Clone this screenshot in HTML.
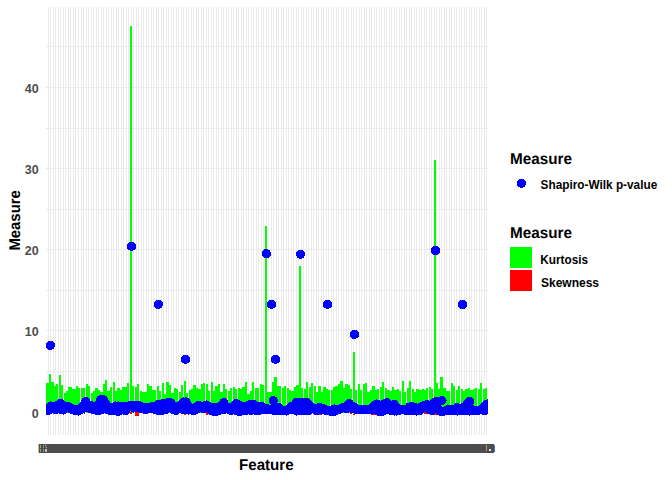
<!DOCTYPE html>
<html><head><meta charset="utf-8"><style>
html,body{margin:0;padding:0;background:#fff;width:672px;height:480px;overflow:hidden}
svg{position:absolute;left:0;top:0}
text{font-family:"Liberation Sans",sans-serif;font-weight:bold}
</style></head><body>
<svg width="672" height="480" viewBox="0 0 672 480">
<defs><clipPath id="pc"><rect x="46" y="7" width="442" height="428"/></clipPath></defs>
<g shape-rendering="crispEdges">
<rect x="48" y="7" width="1" height="428" fill="#EBEBEB"/>
<rect x="50" y="7" width="1" height="428" fill="#EBEBEB"/>
<rect x="53" y="7" width="1" height="428" fill="#EBEBEB"/>
<rect x="55" y="7" width="1" height="428" fill="#EBEBEB"/>
<rect x="58" y="7" width="1" height="428" fill="#EBEBEB"/>
<rect x="60" y="7" width="1" height="428" fill="#EBEBEB"/>
<rect x="63" y="7" width="1" height="428" fill="#EBEBEB"/>
<rect x="65" y="7" width="1" height="428" fill="#EBEBEB"/>
<rect x="68" y="7" width="1" height="428" fill="#EBEBEB"/>
<rect x="70" y="7" width="1" height="428" fill="#EBEBEB"/>
<rect x="73" y="7" width="1" height="428" fill="#EBEBEB"/>
<rect x="75" y="7" width="1" height="428" fill="#EBEBEB"/>
<rect x="78" y="7" width="1" height="428" fill="#EBEBEB"/>
<rect x="81" y="7" width="1" height="428" fill="#EBEBEB"/>
<rect x="83" y="7" width="1" height="428" fill="#EBEBEB"/>
<rect x="86" y="7" width="1" height="428" fill="#EBEBEB"/>
<rect x="88" y="7" width="1" height="428" fill="#EBEBEB"/>
<rect x="91" y="7" width="1" height="428" fill="#EBEBEB"/>
<rect x="93" y="7" width="1" height="428" fill="#EBEBEB"/>
<rect x="96" y="7" width="1" height="428" fill="#EBEBEB"/>
<rect x="98" y="7" width="1" height="428" fill="#EBEBEB"/>
<rect x="101" y="7" width="1" height="428" fill="#EBEBEB"/>
<rect x="103" y="7" width="1" height="428" fill="#EBEBEB"/>
<rect x="106" y="7" width="1" height="428" fill="#EBEBEB"/>
<rect x="108" y="7" width="1" height="428" fill="#EBEBEB"/>
<rect x="111" y="7" width="1" height="428" fill="#EBEBEB"/>
<rect x="113" y="7" width="1" height="428" fill="#EBEBEB"/>
<rect x="116" y="7" width="1" height="428" fill="#EBEBEB"/>
<rect x="118" y="7" width="1" height="428" fill="#EBEBEB"/>
<rect x="121" y="7" width="1" height="428" fill="#EBEBEB"/>
<rect x="123" y="7" width="1" height="428" fill="#EBEBEB"/>
<rect x="126" y="7" width="1" height="428" fill="#EBEBEB"/>
<rect x="128" y="7" width="1" height="428" fill="#EBEBEB"/>
<rect x="131" y="7" width="1" height="428" fill="#EBEBEB"/>
<rect x="133" y="7" width="1" height="428" fill="#EBEBEB"/>
<rect x="136" y="7" width="1" height="428" fill="#EBEBEB"/>
<rect x="138" y="7" width="1" height="428" fill="#EBEBEB"/>
<rect x="141" y="7" width="1" height="428" fill="#EBEBEB"/>
<rect x="143" y="7" width="1" height="428" fill="#EBEBEB"/>
<rect x="146" y="7" width="1" height="428" fill="#EBEBEB"/>
<rect x="148" y="7" width="1" height="428" fill="#EBEBEB"/>
<rect x="151" y="7" width="1" height="428" fill="#EBEBEB"/>
<rect x="153" y="7" width="1" height="428" fill="#EBEBEB"/>
<rect x="156" y="7" width="1" height="428" fill="#EBEBEB"/>
<rect x="158" y="7" width="1" height="428" fill="#EBEBEB"/>
<rect x="161" y="7" width="1" height="428" fill="#EBEBEB"/>
<rect x="163" y="7" width="1" height="428" fill="#EBEBEB"/>
<rect x="166" y="7" width="1" height="428" fill="#EBEBEB"/>
<rect x="168" y="7" width="1" height="428" fill="#EBEBEB"/>
<rect x="171" y="7" width="1" height="428" fill="#EBEBEB"/>
<rect x="173" y="7" width="1" height="428" fill="#EBEBEB"/>
<rect x="176" y="7" width="1" height="428" fill="#EBEBEB"/>
<rect x="178" y="7" width="1" height="428" fill="#EBEBEB"/>
<rect x="181" y="7" width="1" height="428" fill="#EBEBEB"/>
<rect x="183" y="7" width="1" height="428" fill="#EBEBEB"/>
<rect x="186" y="7" width="1" height="428" fill="#EBEBEB"/>
<rect x="188" y="7" width="1" height="428" fill="#EBEBEB"/>
<rect x="191" y="7" width="1" height="428" fill="#EBEBEB"/>
<rect x="193" y="7" width="1" height="428" fill="#EBEBEB"/>
<rect x="196" y="7" width="1" height="428" fill="#EBEBEB"/>
<rect x="198" y="7" width="1" height="428" fill="#EBEBEB"/>
<rect x="201" y="7" width="1" height="428" fill="#EBEBEB"/>
<rect x="203" y="7" width="1" height="428" fill="#EBEBEB"/>
<rect x="206" y="7" width="1" height="428" fill="#EBEBEB"/>
<rect x="208" y="7" width="1" height="428" fill="#EBEBEB"/>
<rect x="211" y="7" width="1" height="428" fill="#EBEBEB"/>
<rect x="213" y="7" width="1" height="428" fill="#EBEBEB"/>
<rect x="216" y="7" width="1" height="428" fill="#EBEBEB"/>
<rect x="218" y="7" width="1" height="428" fill="#EBEBEB"/>
<rect x="221" y="7" width="1" height="428" fill="#EBEBEB"/>
<rect x="223" y="7" width="1" height="428" fill="#EBEBEB"/>
<rect x="226" y="7" width="1" height="428" fill="#EBEBEB"/>
<rect x="228" y="7" width="1" height="428" fill="#EBEBEB"/>
<rect x="231" y="7" width="1" height="428" fill="#EBEBEB"/>
<rect x="233" y="7" width="1" height="428" fill="#EBEBEB"/>
<rect x="236" y="7" width="1" height="428" fill="#EBEBEB"/>
<rect x="238" y="7" width="1" height="428" fill="#EBEBEB"/>
<rect x="241" y="7" width="1" height="428" fill="#EBEBEB"/>
<rect x="243" y="7" width="1" height="428" fill="#EBEBEB"/>
<rect x="246" y="7" width="1" height="428" fill="#EBEBEB"/>
<rect x="248" y="7" width="1" height="428" fill="#EBEBEB"/>
<rect x="251" y="7" width="1" height="428" fill="#EBEBEB"/>
<rect x="253" y="7" width="1" height="428" fill="#EBEBEB"/>
<rect x="256" y="7" width="1" height="428" fill="#EBEBEB"/>
<rect x="258" y="7" width="1" height="428" fill="#EBEBEB"/>
<rect x="261" y="7" width="1" height="428" fill="#EBEBEB"/>
<rect x="263" y="7" width="1" height="428" fill="#EBEBEB"/>
<rect x="266" y="7" width="1" height="428" fill="#EBEBEB"/>
<rect x="268" y="7" width="1" height="428" fill="#EBEBEB"/>
<rect x="271" y="7" width="1" height="428" fill="#EBEBEB"/>
<rect x="273" y="7" width="1" height="428" fill="#EBEBEB"/>
<rect x="276" y="7" width="1" height="428" fill="#EBEBEB"/>
<rect x="278" y="7" width="1" height="428" fill="#EBEBEB"/>
<rect x="281" y="7" width="1" height="428" fill="#EBEBEB"/>
<rect x="283" y="7" width="1" height="428" fill="#EBEBEB"/>
<rect x="286" y="7" width="1" height="428" fill="#EBEBEB"/>
<rect x="288" y="7" width="1" height="428" fill="#EBEBEB"/>
<rect x="291" y="7" width="1" height="428" fill="#EBEBEB"/>
<rect x="293" y="7" width="1" height="428" fill="#EBEBEB"/>
<rect x="296" y="7" width="1" height="428" fill="#EBEBEB"/>
<rect x="298" y="7" width="1" height="428" fill="#EBEBEB"/>
<rect x="301" y="7" width="1" height="428" fill="#EBEBEB"/>
<rect x="303" y="7" width="1" height="428" fill="#EBEBEB"/>
<rect x="306" y="7" width="1" height="428" fill="#EBEBEB"/>
<rect x="308" y="7" width="1" height="428" fill="#EBEBEB"/>
<rect x="311" y="7" width="1" height="428" fill="#EBEBEB"/>
<rect x="313" y="7" width="1" height="428" fill="#EBEBEB"/>
<rect x="316" y="7" width="1" height="428" fill="#EBEBEB"/>
<rect x="318" y="7" width="1" height="428" fill="#EBEBEB"/>
<rect x="321" y="7" width="1" height="428" fill="#EBEBEB"/>
<rect x="323" y="7" width="1" height="428" fill="#EBEBEB"/>
<rect x="326" y="7" width="1" height="428" fill="#EBEBEB"/>
<rect x="328" y="7" width="1" height="428" fill="#EBEBEB"/>
<rect x="331" y="7" width="1" height="428" fill="#EBEBEB"/>
<rect x="333" y="7" width="1" height="428" fill="#EBEBEB"/>
<rect x="336" y="7" width="1" height="428" fill="#EBEBEB"/>
<rect x="338" y="7" width="1" height="428" fill="#EBEBEB"/>
<rect x="341" y="7" width="1" height="428" fill="#EBEBEB"/>
<rect x="343" y="7" width="1" height="428" fill="#EBEBEB"/>
<rect x="346" y="7" width="1" height="428" fill="#EBEBEB"/>
<rect x="348" y="7" width="1" height="428" fill="#EBEBEB"/>
<rect x="351" y="7" width="1" height="428" fill="#EBEBEB"/>
<rect x="353" y="7" width="1" height="428" fill="#EBEBEB"/>
<rect x="356" y="7" width="1" height="428" fill="#EBEBEB"/>
<rect x="359" y="7" width="1" height="428" fill="#EBEBEB"/>
<rect x="361" y="7" width="1" height="428" fill="#EBEBEB"/>
<rect x="364" y="7" width="1" height="428" fill="#EBEBEB"/>
<rect x="366" y="7" width="1" height="428" fill="#EBEBEB"/>
<rect x="369" y="7" width="1" height="428" fill="#EBEBEB"/>
<rect x="371" y="7" width="1" height="428" fill="#EBEBEB"/>
<rect x="374" y="7" width="1" height="428" fill="#EBEBEB"/>
<rect x="376" y="7" width="1" height="428" fill="#EBEBEB"/>
<rect x="379" y="7" width="1" height="428" fill="#EBEBEB"/>
<rect x="381" y="7" width="1" height="428" fill="#EBEBEB"/>
<rect x="384" y="7" width="1" height="428" fill="#EBEBEB"/>
<rect x="386" y="7" width="1" height="428" fill="#EBEBEB"/>
<rect x="389" y="7" width="1" height="428" fill="#EBEBEB"/>
<rect x="391" y="7" width="1" height="428" fill="#EBEBEB"/>
<rect x="394" y="7" width="1" height="428" fill="#EBEBEB"/>
<rect x="396" y="7" width="1" height="428" fill="#EBEBEB"/>
<rect x="399" y="7" width="1" height="428" fill="#EBEBEB"/>
<rect x="401" y="7" width="1" height="428" fill="#EBEBEB"/>
<rect x="404" y="7" width="1" height="428" fill="#EBEBEB"/>
<rect x="406" y="7" width="1" height="428" fill="#EBEBEB"/>
<rect x="409" y="7" width="1" height="428" fill="#EBEBEB"/>
<rect x="411" y="7" width="1" height="428" fill="#EBEBEB"/>
<rect x="414" y="7" width="1" height="428" fill="#EBEBEB"/>
<rect x="416" y="7" width="1" height="428" fill="#EBEBEB"/>
<rect x="419" y="7" width="1" height="428" fill="#EBEBEB"/>
<rect x="421" y="7" width="1" height="428" fill="#EBEBEB"/>
<rect x="424" y="7" width="1" height="428" fill="#EBEBEB"/>
<rect x="426" y="7" width="1" height="428" fill="#EBEBEB"/>
<rect x="429" y="7" width="1" height="428" fill="#EBEBEB"/>
<rect x="431" y="7" width="1" height="428" fill="#EBEBEB"/>
<rect x="434" y="7" width="1" height="428" fill="#EBEBEB"/>
<rect x="436" y="7" width="1" height="428" fill="#EBEBEB"/>
<rect x="439" y="7" width="1" height="428" fill="#EBEBEB"/>
<rect x="441" y="7" width="1" height="428" fill="#EBEBEB"/>
<rect x="444" y="7" width="1" height="428" fill="#EBEBEB"/>
<rect x="446" y="7" width="1" height="428" fill="#EBEBEB"/>
<rect x="449" y="7" width="1" height="428" fill="#EBEBEB"/>
<rect x="451" y="7" width="1" height="428" fill="#EBEBEB"/>
<rect x="454" y="7" width="1" height="428" fill="#EBEBEB"/>
<rect x="456" y="7" width="1" height="428" fill="#EBEBEB"/>
<rect x="459" y="7" width="1" height="428" fill="#EBEBEB"/>
<rect x="461" y="7" width="1" height="428" fill="#EBEBEB"/>
<rect x="464" y="7" width="1" height="428" fill="#EBEBEB"/>
<rect x="466" y="7" width="1" height="428" fill="#EBEBEB"/>
<rect x="469" y="7" width="1" height="428" fill="#EBEBEB"/>
<rect x="471" y="7" width="1" height="428" fill="#EBEBEB"/>
<rect x="474" y="7" width="1" height="428" fill="#EBEBEB"/>
<rect x="476" y="7" width="1" height="428" fill="#EBEBEB"/>
<rect x="479" y="7" width="1" height="428" fill="#EBEBEB"/>
<rect x="481" y="7" width="1" height="428" fill="#EBEBEB"/>
<rect x="484" y="7" width="1" height="428" fill="#EBEBEB"/>
<rect x="486" y="7" width="1" height="428" fill="#EBEBEB"/>
<rect x="46" y="46" width="442" height="1" fill="#EBEBEB"/>
<rect x="46" y="128" width="442" height="1" fill="#EBEBEB"/>
<rect x="46" y="209" width="442" height="1" fill="#EBEBEB"/>
<rect x="46" y="290" width="442" height="1" fill="#EBEBEB"/>
<rect x="46" y="371" width="442" height="1" fill="#EBEBEB"/>
<rect x="46" y="87" width="442" height="1" fill="#EBEBEB"/>
<rect x="46" y="168" width="442" height="1" fill="#EBEBEB"/>
<rect x="46" y="249" width="442" height="1" fill="#EBEBEB"/>
<rect x="46" y="330" width="442" height="1" fill="#EBEBEB"/>
<rect x="46" y="411" width="442" height="1" fill="#EBEBEB"/>
<rect x="46" y="383" width="3" height="30" fill="#00FF00"/>
<rect x="49" y="374" width="2" height="39" fill="#00FF00"/>
<rect x="51" y="382" width="3" height="31" fill="#00FF00"/>
<rect x="54" y="386" width="2" height="27" fill="#00FF00"/>
<rect x="56" y="384" width="2" height="29" fill="#00FF00"/>
<rect x="59" y="375" width="2" height="38" fill="#00FF00"/>
<rect x="61" y="385" width="2" height="28" fill="#00FF00"/>
<rect x="64" y="393" width="2" height="20" fill="#00FF00"/>
<rect x="66" y="391" width="2" height="22" fill="#00FF00"/>
<rect x="68" y="387" width="4" height="26" fill="#00FF00"/>
<rect x="72" y="389" width="4" height="24" fill="#00FF00"/>
<rect x="76" y="386" width="2" height="27" fill="#00FF00"/>
<rect x="78" y="388" width="2" height="25" fill="#00FF00"/>
<rect x="81" y="388" width="4" height="25" fill="#00FF00"/>
<rect x="86" y="384" width="2" height="29" fill="#00FF00"/>
<rect x="88" y="386" width="2" height="27" fill="#00FF00"/>
<rect x="91" y="393" width="2" height="20" fill="#00FF00"/>
<rect x="93" y="391" width="2" height="22" fill="#00FF00"/>
<rect x="95" y="388" width="3" height="25" fill="#00FF00"/>
<rect x="98" y="390" width="2" height="23" fill="#00FF00"/>
<rect x="100" y="392" width="3" height="21" fill="#00FF00"/>
<rect x="103" y="384" width="1" height="29" fill="#00FF00"/>
<rect x="104" y="384" width="1" height="29" fill="#00FF00"/>
<rect x="105" y="380" width="2" height="33" fill="#00FF00"/>
<rect x="107" y="391" width="3" height="22" fill="#00FF00"/>
<rect x="110" y="387" width="2" height="26" fill="#00FF00"/>
<rect x="113" y="382" width="2" height="31" fill="#00FF00"/>
<rect x="115" y="391" width="2" height="22" fill="#00FF00"/>
<rect x="117" y="388" width="3" height="25" fill="#00FF00"/>
<rect x="120" y="390" width="2" height="23" fill="#00FF00"/>
<rect x="122" y="387" width="5" height="26" fill="#00FF00"/>
<rect x="127" y="383" width="2" height="30" fill="#00FF00"/>
<rect x="130" y="26" width="2" height="387" fill="#00FF00"/>
<rect x="132" y="386" width="2" height="27" fill="#00FF00"/>
<rect x="135" y="387" width="2" height="26" fill="#00FF00"/>
<rect x="137" y="384" width="2" height="29" fill="#00FF00"/>
<rect x="140" y="391" width="2" height="22" fill="#00FF00"/>
<rect x="142" y="392" width="5" height="21" fill="#00FF00"/>
<rect x="147" y="384" width="2" height="29" fill="#00FF00"/>
<rect x="149" y="386" width="3" height="27" fill="#00FF00"/>
<rect x="152" y="390" width="4" height="23" fill="#00FF00"/>
<rect x="157" y="386" width="2" height="27" fill="#00FF00"/>
<rect x="159" y="391" width="2" height="22" fill="#00FF00"/>
<rect x="162" y="383" width="2" height="30" fill="#00FF00"/>
<rect x="164" y="394" width="2" height="19" fill="#00FF00"/>
<rect x="166" y="382" width="3" height="31" fill="#00FF00"/>
<rect x="169" y="385" width="2" height="28" fill="#00FF00"/>
<rect x="171" y="393" width="3" height="20" fill="#00FF00"/>
<rect x="174" y="388" width="2" height="25" fill="#00FF00"/>
<rect x="176" y="389" width="2" height="24" fill="#00FF00"/>
<rect x="179" y="392" width="2" height="21" fill="#00FF00"/>
<rect x="181" y="385" width="2" height="28" fill="#00FF00"/>
<rect x="184" y="381" width="2" height="32" fill="#00FF00"/>
<rect x="186" y="393" width="2" height="20" fill="#00FF00"/>
<rect x="189" y="390" width="2" height="23" fill="#00FF00"/>
<rect x="191" y="389" width="2" height="24" fill="#00FF00"/>
<rect x="193" y="385" width="3" height="28" fill="#00FF00"/>
<rect x="196" y="388" width="2" height="25" fill="#00FF00"/>
<rect x="198" y="389" width="3" height="24" fill="#00FF00"/>
<rect x="201" y="384" width="2" height="29" fill="#00FF00"/>
<rect x="203" y="383" width="2" height="30" fill="#00FF00"/>
<rect x="206" y="384" width="2" height="29" fill="#00FF00"/>
<rect x="208" y="391" width="2" height="22" fill="#00FF00"/>
<rect x="211" y="382" width="2" height="31" fill="#00FF00"/>
<rect x="213" y="391" width="2" height="22" fill="#00FF00"/>
<rect x="215" y="386" width="3" height="27" fill="#00FF00"/>
<rect x="218" y="384" width="2" height="29" fill="#00FF00"/>
<rect x="220" y="392" width="3" height="21" fill="#00FF00"/>
<rect x="223" y="384" width="1" height="29" fill="#00FF00"/>
<rect x="224" y="384" width="1" height="29" fill="#00FF00"/>
<rect x="225" y="389" width="2" height="24" fill="#00FF00"/>
<rect x="228" y="391" width="2" height="22" fill="#00FF00"/>
<rect x="230" y="388" width="2" height="25" fill="#00FF00"/>
<rect x="233" y="387" width="2" height="26" fill="#00FF00"/>
<rect x="235" y="389" width="2" height="24" fill="#00FF00"/>
<rect x="238" y="388" width="2" height="25" fill="#00FF00"/>
<rect x="240" y="389" width="2" height="24" fill="#00FF00"/>
<rect x="242" y="387" width="3" height="26" fill="#00FF00"/>
<rect x="245" y="382" width="2" height="31" fill="#00FF00"/>
<rect x="247" y="394" width="3" height="19" fill="#00FF00"/>
<rect x="250" y="391" width="2" height="22" fill="#00FF00"/>
<rect x="252" y="382" width="2" height="31" fill="#00FF00"/>
<rect x="255" y="388" width="4" height="25" fill="#00FF00"/>
<rect x="260" y="384" width="2" height="29" fill="#00FF00"/>
<rect x="262" y="385" width="2" height="28" fill="#00FF00"/>
<rect x="265" y="226" width="2" height="187" fill="#00FF00"/>
<rect x="267" y="392" width="5" height="21" fill="#00FF00"/>
<rect x="272" y="382" width="2" height="31" fill="#00FF00"/>
<rect x="274" y="377" width="3" height="36" fill="#00FF00"/>
<rect x="277" y="386" width="4" height="27" fill="#00FF00"/>
<rect x="282" y="388" width="2" height="25" fill="#00FF00"/>
<rect x="284" y="386" width="2" height="27" fill="#00FF00"/>
<rect x="287" y="388" width="2" height="25" fill="#00FF00"/>
<rect x="289" y="390" width="2" height="23" fill="#00FF00"/>
<rect x="291" y="391" width="3" height="22" fill="#00FF00"/>
<rect x="294" y="387" width="2" height="26" fill="#00FF00"/>
<rect x="296" y="385" width="3" height="28" fill="#00FF00"/>
<rect x="299" y="266" width="2" height="147" fill="#00FF00"/>
<rect x="301" y="388" width="2" height="25" fill="#00FF00"/>
<rect x="304" y="389" width="2" height="24" fill="#00FF00"/>
<rect x="306" y="382" width="2" height="31" fill="#00FF00"/>
<rect x="309" y="387" width="2" height="26" fill="#00FF00"/>
<rect x="311" y="383" width="2" height="30" fill="#00FF00"/>
<rect x="314" y="386" width="2" height="27" fill="#00FF00"/>
<rect x="316" y="392" width="2" height="21" fill="#00FF00"/>
<rect x="318" y="386" width="3" height="27" fill="#00FF00"/>
<rect x="321" y="392" width="2" height="21" fill="#00FF00"/>
<rect x="323" y="387" width="3" height="26" fill="#00FF00"/>
<rect x="326" y="389" width="2" height="24" fill="#00FF00"/>
<rect x="328" y="390" width="2" height="23" fill="#00FF00"/>
<rect x="331" y="390" width="2" height="23" fill="#00FF00"/>
<rect x="333" y="387" width="2" height="26" fill="#00FF00"/>
<rect x="335" y="386" width="3" height="27" fill="#00FF00"/>
<rect x="338" y="384" width="2" height="29" fill="#00FF00"/>
<rect x="340" y="381" width="3" height="32" fill="#00FF00"/>
<rect x="343" y="388" width="1" height="25" fill="#00FF00"/>
<rect x="344" y="388" width="1" height="25" fill="#00FF00"/>
<rect x="345" y="384" width="3" height="29" fill="#00FF00"/>
<rect x="348" y="385" width="2" height="28" fill="#00FF00"/>
<rect x="350" y="389" width="2" height="24" fill="#00FF00"/>
<rect x="353" y="352" width="2" height="61" fill="#00FF00"/>
<rect x="355" y="390" width="2" height="23" fill="#00FF00"/>
<rect x="358" y="384" width="2" height="29" fill="#00FF00"/>
<rect x="360" y="390" width="2" height="23" fill="#00FF00"/>
<rect x="363" y="384" width="2" height="29" fill="#00FF00"/>
<rect x="365" y="383" width="2" height="30" fill="#00FF00"/>
<rect x="367" y="392" width="3" height="21" fill="#00FF00"/>
<rect x="370" y="390" width="2" height="23" fill="#00FF00"/>
<rect x="372" y="386" width="3" height="27" fill="#00FF00"/>
<rect x="375" y="390" width="2" height="23" fill="#00FF00"/>
<rect x="377" y="389" width="2" height="24" fill="#00FF00"/>
<rect x="380" y="387" width="2" height="26" fill="#00FF00"/>
<rect x="382" y="382" width="2" height="31" fill="#00FF00"/>
<rect x="385" y="388" width="2" height="25" fill="#00FF00"/>
<rect x="387" y="390" width="3" height="23" fill="#00FF00"/>
<rect x="390" y="391" width="2" height="22" fill="#00FF00"/>
<rect x="392" y="387" width="2" height="26" fill="#00FF00"/>
<rect x="394" y="390" width="3" height="23" fill="#00FF00"/>
<rect x="397" y="389" width="2" height="24" fill="#00FF00"/>
<rect x="399" y="391" width="2" height="22" fill="#00FF00"/>
<rect x="402" y="381" width="2" height="32" fill="#00FF00"/>
<rect x="404" y="392" width="2" height="21" fill="#00FF00"/>
<rect x="407" y="388" width="2" height="25" fill="#00FF00"/>
<rect x="409" y="381" width="2" height="32" fill="#00FF00"/>
<rect x="412" y="389" width="2" height="24" fill="#00FF00"/>
<rect x="414" y="392" width="2" height="21" fill="#00FF00"/>
<rect x="416" y="389" width="3" height="24" fill="#00FF00"/>
<rect x="419" y="390" width="3" height="23" fill="#00FF00"/>
<rect x="422" y="389" width="2" height="24" fill="#00FF00"/>
<rect x="424" y="390" width="2" height="23" fill="#00FF00"/>
<rect x="426" y="388" width="2" height="25" fill="#00FF00"/>
<rect x="429" y="387" width="2" height="26" fill="#00FF00"/>
<rect x="431" y="389" width="2" height="24" fill="#00FF00"/>
<rect x="434" y="160" width="2" height="253" fill="#00FF00"/>
<rect x="436" y="383" width="2" height="30" fill="#00FF00"/>
<rect x="438" y="389" width="2" height="24" fill="#00FF00"/>
<rect x="440" y="377" width="3" height="36" fill="#00FF00"/>
<rect x="443" y="388" width="3" height="25" fill="#00FF00"/>
<rect x="446" y="391" width="4" height="22" fill="#00FF00"/>
<rect x="451" y="383" width="2" height="30" fill="#00FF00"/>
<rect x="453" y="386" width="2" height="27" fill="#00FF00"/>
<rect x="456" y="390" width="2" height="23" fill="#00FF00"/>
<rect x="458" y="386" width="2" height="27" fill="#00FF00"/>
<rect x="461" y="389" width="2" height="24" fill="#00FF00"/>
<rect x="463" y="391" width="2" height="22" fill="#00FF00"/>
<rect x="465" y="389" width="3" height="24" fill="#00FF00"/>
<rect x="468" y="388" width="2" height="25" fill="#00FF00"/>
<rect x="470" y="390" width="3" height="23" fill="#00FF00"/>
<rect x="473" y="389" width="2" height="24" fill="#00FF00"/>
<rect x="475" y="388" width="2" height="25" fill="#00FF00"/>
<rect x="478" y="389" width="2" height="24" fill="#00FF00"/>
<rect x="480" y="383" width="2" height="30" fill="#00FF00"/>
<rect x="483" y="389" width="2" height="24" fill="#00FF00"/>
<rect x="485" y="388" width="2" height="25" fill="#00FF00"/>
<rect x="108" y="400" width="3" height="6" fill="#00FF00"/>
<rect x="434" y="408" width="2" height="4" fill="#00FF00"/>
<rect x="441" y="401" width="6" height="6" fill="#00FF00"/>
<rect x="298" y="406" width="3" height="2" fill="#00FF00"/>
<rect x="303" y="406" width="3" height="2" fill="#00FF00"/>
<rect x="84" y="413" width="1" height="1" fill="#FF0000"/>
<rect x="130" y="412" width="2" height="2" fill="#FF0000"/>
<rect x="135" y="412" width="4" height="4" fill="#FF0000"/>
<rect x="184" y="414" width="2" height="1" fill="#FF0000"/>
<rect x="206" y="412" width="2" height="3" fill="#FF0000"/>
<rect x="319" y="414" width="2" height="1" fill="#FF0000"/>
<rect x="350" y="413" width="2" height="1" fill="#FF0000"/>
<rect x="353" y="414" width="2" height="1" fill="#FF0000"/>
<rect x="372" y="414" width="5" height="1" fill="#FF0000"/>
<rect x="416" y="412" width="1" height="2" fill="#FF0000"/>
<rect x="424" y="412" width="3" height="2" fill="#FF0000"/>
<rect x="434" y="412" width="3" height="3" fill="#FF0000"/>
</g>
<g clip-path="url(#pc)">
<g fill="#0000FF" shape-rendering="crispEdges"><circle cx="48.10" cy="408.00" r="4.6"/>
<circle cx="48.10" cy="410.50" r="4.6"/>
<circle cx="50.61" cy="406.00" r="4.6"/>
<circle cx="50.61" cy="406.00" r="4.6"/>
<circle cx="53.12" cy="406.50" r="4.6"/>
<circle cx="53.12" cy="409.00" r="4.6"/>
<circle cx="55.63" cy="406.00" r="4.6"/>
<circle cx="55.63" cy="409.50" r="4.6"/>
<circle cx="58.14" cy="405.00" r="4.6"/>
<circle cx="58.14" cy="405.00" r="4.6"/>
<circle cx="60.65" cy="403.50" r="4.6"/>
<circle cx="60.65" cy="409.50" r="4.6"/>
<circle cx="63.15" cy="405.50" r="4.6"/>
<circle cx="63.15" cy="410.00" r="4.6"/>
<circle cx="65.66" cy="406.50" r="4.6"/>
<circle cx="65.66" cy="406.50" r="4.6"/>
<circle cx="68.17" cy="406.50" r="4.6"/>
<circle cx="68.17" cy="408.00" r="4.6"/>
<circle cx="70.68" cy="408.00" r="4.6"/>
<circle cx="70.68" cy="408.00" r="4.6"/>
<circle cx="73.19" cy="409.00" r="4.6"/>
<circle cx="73.19" cy="410.00" r="4.6"/>
<circle cx="75.70" cy="409.50" r="4.6"/>
<circle cx="75.70" cy="410.50" r="4.6"/>
<circle cx="78.21" cy="409.50" r="4.6"/>
<circle cx="78.21" cy="411.00" r="4.6"/>
<circle cx="80.72" cy="408.00" r="4.6"/>
<circle cx="80.72" cy="409.50" r="4.6"/>
<circle cx="83.23" cy="405.50" r="4.6"/>
<circle cx="83.23" cy="408.50" r="4.6"/>
<circle cx="85.73" cy="401.50" r="4.6"/>
<circle cx="85.73" cy="401.50" r="4.6"/>
<circle cx="88.24" cy="405.00" r="4.6"/>
<circle cx="88.24" cy="408.00" r="4.6"/>
<circle cx="90.75" cy="405.50" r="4.6"/>
<circle cx="90.75" cy="408.50" r="4.6"/>
<circle cx="93.26" cy="406.50" r="4.6"/>
<circle cx="93.26" cy="409.50" r="4.6"/>
<circle cx="95.77" cy="410.00" r="4.6"/>
<circle cx="95.77" cy="406.00" r="4.6"/>
<circle cx="98.28" cy="404.50" r="4.6"/>
<circle cx="98.28" cy="410.50" r="4.6"/>
<circle cx="100.79" cy="399.50" r="4.6"/>
<circle cx="100.79" cy="410.00" r="4.6"/>
<circle cx="103.30" cy="399.50" r="4.6"/>
<circle cx="103.30" cy="399.50" r="4.6"/>
<circle cx="105.81" cy="403.50" r="4.6"/>
<circle cx="105.81" cy="403.50" r="4.6"/>
<circle cx="108.32" cy="407.00" r="4.6"/>
<circle cx="108.32" cy="410.00" r="4.6"/>
<circle cx="110.82" cy="407.50" r="4.6"/>
<circle cx="110.82" cy="410.50" r="4.6"/>
<circle cx="113.33" cy="407.50" r="4.6"/>
<circle cx="113.33" cy="410.00" r="4.6"/>
<circle cx="115.84" cy="406.00" r="4.6"/>
<circle cx="115.84" cy="410.50" r="4.6"/>
<circle cx="118.35" cy="406.00" r="4.6"/>
<circle cx="118.35" cy="411.50" r="4.6"/>
<circle cx="120.86" cy="406.50" r="4.6"/>
<circle cx="120.86" cy="406.50" r="4.6"/>
<circle cx="123.37" cy="406.50" r="4.6"/>
<circle cx="123.37" cy="410.00" r="4.6"/>
<circle cx="125.88" cy="406.50" r="4.6"/>
<circle cx="125.88" cy="410.50" r="4.6"/>
<circle cx="128.39" cy="406.00" r="4.6"/>
<circle cx="128.39" cy="406.00" r="4.6"/>
<circle cx="130.90" cy="405.50" r="4.6"/>
<circle cx="130.90" cy="405.50" r="4.6"/>
<circle cx="133.41" cy="405.50" r="4.6"/>
<circle cx="133.41" cy="408.00" r="4.6"/>
<circle cx="135.91" cy="405.50" r="4.6"/>
<circle cx="135.91" cy="405.50" r="4.6"/>
<circle cx="138.42" cy="405.50" r="4.6"/>
<circle cx="138.42" cy="407.50" r="4.6"/>
<circle cx="140.93" cy="406.50" r="4.6"/>
<circle cx="140.93" cy="408.50" r="4.6"/>
<circle cx="143.44" cy="407.50" r="4.6"/>
<circle cx="143.44" cy="409.00" r="4.6"/>
<circle cx="145.95" cy="407.50" r="4.6"/>
<circle cx="145.95" cy="409.50" r="4.6"/>
<circle cx="148.46" cy="407.50" r="4.6"/>
<circle cx="148.46" cy="407.50" r="4.6"/>
<circle cx="150.97" cy="407.00" r="4.6"/>
<circle cx="150.97" cy="408.50" r="4.6"/>
<circle cx="153.48" cy="409.00" r="4.6"/>
<circle cx="153.48" cy="406.50" r="4.6"/>
<circle cx="155.99" cy="406.00" r="4.6"/>
<circle cx="155.99" cy="409.50" r="4.6"/>
<circle cx="158.50" cy="404.50" r="4.6"/>
<circle cx="158.50" cy="410.50" r="4.6"/>
<circle cx="161.00" cy="404.50" r="4.6"/>
<circle cx="161.00" cy="411.00" r="4.6"/>
<circle cx="163.51" cy="403.50" r="4.6"/>
<circle cx="163.51" cy="403.50" r="4.6"/>
<circle cx="166.02" cy="403.50" r="4.6"/>
<circle cx="166.02" cy="409.50" r="4.6"/>
<circle cx="168.53" cy="402.50" r="4.6"/>
<circle cx="168.53" cy="402.50" r="4.6"/>
<circle cx="171.04" cy="403.00" r="4.6"/>
<circle cx="171.04" cy="403.00" r="4.6"/>
<circle cx="173.55" cy="406.00" r="4.6"/>
<circle cx="173.55" cy="409.50" r="4.6"/>
<circle cx="176.06" cy="406.50" r="4.6"/>
<circle cx="176.06" cy="410.50" r="4.6"/>
<circle cx="178.57" cy="406.00" r="4.6"/>
<circle cx="178.57" cy="406.00" r="4.6"/>
<circle cx="181.08" cy="404.50" r="4.6"/>
<circle cx="181.08" cy="409.00" r="4.6"/>
<circle cx="183.59" cy="402.00" r="4.6"/>
<circle cx="183.59" cy="409.50" r="4.6"/>
<circle cx="186.09" cy="402.00" r="4.6"/>
<circle cx="186.09" cy="402.00" r="4.6"/>
<circle cx="188.60" cy="406.50" r="4.6"/>
<circle cx="188.60" cy="410.00" r="4.6"/>
<circle cx="191.11" cy="408.00" r="4.6"/>
<circle cx="191.11" cy="410.00" r="4.6"/>
<circle cx="193.62" cy="408.00" r="4.6"/>
<circle cx="193.62" cy="410.50" r="4.6"/>
<circle cx="196.13" cy="407.00" r="4.6"/>
<circle cx="196.13" cy="409.50" r="4.6"/>
<circle cx="198.64" cy="405.50" r="4.6"/>
<circle cx="198.64" cy="405.50" r="4.6"/>
<circle cx="201.15" cy="406.50" r="4.6"/>
<circle cx="201.15" cy="408.00" r="4.6"/>
<circle cx="203.66" cy="406.00" r="4.6"/>
<circle cx="203.66" cy="408.50" r="4.6"/>
<circle cx="206.17" cy="405.00" r="4.6"/>
<circle cx="206.17" cy="405.00" r="4.6"/>
<circle cx="208.68" cy="406.50" r="4.6"/>
<circle cx="208.68" cy="406.50" r="4.6"/>
<circle cx="211.18" cy="407.50" r="4.6"/>
<circle cx="211.18" cy="410.50" r="4.6"/>
<circle cx="213.69" cy="411.50" r="4.6"/>
<circle cx="213.69" cy="407.50" r="4.6"/>
<circle cx="216.20" cy="407.50" r="4.6"/>
<circle cx="216.20" cy="411.50" r="4.6"/>
<circle cx="218.71" cy="407.00" r="4.6"/>
<circle cx="218.71" cy="410.50" r="4.6"/>
<circle cx="221.22" cy="405.50" r="4.6"/>
<circle cx="221.22" cy="405.50" r="4.6"/>
<circle cx="223.73" cy="402.50" r="4.6"/>
<circle cx="223.73" cy="409.50" r="4.6"/>
<circle cx="226.24" cy="407.00" r="4.6"/>
<circle cx="226.24" cy="407.00" r="4.6"/>
<circle cx="228.75" cy="407.50" r="4.6"/>
<circle cx="228.75" cy="409.50" r="4.6"/>
<circle cx="231.26" cy="407.50" r="4.6"/>
<circle cx="231.26" cy="410.50" r="4.6"/>
<circle cx="233.77" cy="406.00" r="4.6"/>
<circle cx="233.77" cy="406.00" r="4.6"/>
<circle cx="236.27" cy="403.50" r="4.6"/>
<circle cx="236.27" cy="410.50" r="4.6"/>
<circle cx="238.78" cy="405.00" r="4.6"/>
<circle cx="238.78" cy="411.50" r="4.6"/>
<circle cx="241.29" cy="406.00" r="4.6"/>
<circle cx="241.29" cy="411.00" r="4.6"/>
<circle cx="243.80" cy="406.50" r="4.6"/>
<circle cx="243.80" cy="406.50" r="4.6"/>
<circle cx="246.31" cy="406.00" r="4.6"/>
<circle cx="246.31" cy="410.50" r="4.6"/>
<circle cx="248.82" cy="405.00" r="4.6"/>
<circle cx="248.82" cy="405.00" r="4.6"/>
<circle cx="251.33" cy="404.50" r="4.6"/>
<circle cx="251.33" cy="410.50" r="4.6"/>
<circle cx="253.84" cy="404.50" r="4.6"/>
<circle cx="253.84" cy="404.50" r="4.6"/>
<circle cx="256.35" cy="406.00" r="4.6"/>
<circle cx="256.35" cy="410.50" r="4.6"/>
<circle cx="258.86" cy="410.50" r="4.6"/>
<circle cx="258.86" cy="406.50" r="4.6"/>
<circle cx="261.37" cy="406.50" r="4.6"/>
<circle cx="261.37" cy="406.50" r="4.6"/>
<circle cx="263.87" cy="408.00" r="4.6"/>
<circle cx="263.87" cy="409.50" r="4.6"/>
<circle cx="266.38" cy="409.00" r="4.6"/>
<circle cx="266.38" cy="408.50" r="4.6"/>
<circle cx="268.89" cy="409.50" r="4.6"/>
<circle cx="268.89" cy="409.50" r="4.6"/>
<circle cx="271.40" cy="409.50" r="4.6"/>
<circle cx="271.40" cy="409.50" r="4.6"/>
<circle cx="273.91" cy="409.50" r="4.6"/>
<circle cx="273.91" cy="410.50" r="4.6"/>
<circle cx="276.42" cy="409.00" r="4.6"/>
<circle cx="276.42" cy="410.00" r="4.6"/>
<circle cx="278.93" cy="407.50" r="4.6"/>
<circle cx="278.93" cy="410.50" r="4.6"/>
<circle cx="281.44" cy="410.00" r="4.6"/>
<circle cx="281.44" cy="410.00" r="4.6"/>
<circle cx="283.95" cy="410.50" r="4.6"/>
<circle cx="283.95" cy="410.50" r="4.6"/>
<circle cx="286.45" cy="410.00" r="4.6"/>
<circle cx="286.45" cy="411.00" r="4.6"/>
<circle cx="288.96" cy="409.00" r="4.6"/>
<circle cx="288.96" cy="410.00" r="4.6"/>
<circle cx="291.47" cy="406.50" r="4.6"/>
<circle cx="291.47" cy="406.50" r="4.6"/>
<circle cx="293.98" cy="405.50" r="4.6"/>
<circle cx="293.98" cy="409.50" r="4.6"/>
<circle cx="296.49" cy="402.50" r="4.6"/>
<circle cx="296.49" cy="411.00" r="4.6"/>
<circle cx="299.00" cy="402.50" r="4.6"/>
<circle cx="299.00" cy="402.50" r="4.6"/>
<circle cx="301.51" cy="402.50" r="4.6"/>
<circle cx="301.51" cy="410.50" r="4.6"/>
<circle cx="304.02" cy="402.50" r="4.6"/>
<circle cx="304.02" cy="402.50" r="4.6"/>
<circle cx="306.53" cy="402.50" r="4.6"/>
<circle cx="306.53" cy="410.50" r="4.6"/>
<circle cx="309.04" cy="410.50" r="4.6"/>
<circle cx="309.04" cy="405.00" r="4.6"/>
<circle cx="311.55" cy="407.50" r="4.6"/>
<circle cx="311.55" cy="407.50" r="4.6"/>
<circle cx="314.05" cy="408.50" r="4.6"/>
<circle cx="314.05" cy="408.50" r="4.6"/>
<circle cx="316.56" cy="410.50" r="4.6"/>
<circle cx="316.56" cy="408.50" r="4.6"/>
<circle cx="319.07" cy="407.50" r="4.6"/>
<circle cx="319.07" cy="407.50" r="4.6"/>
<circle cx="321.58" cy="408.00" r="4.6"/>
<circle cx="321.58" cy="410.00" r="4.6"/>
<circle cx="324.09" cy="409.00" r="4.6"/>
<circle cx="324.09" cy="410.00" r="4.6"/>
<circle cx="326.60" cy="410.50" r="4.6"/>
<circle cx="326.60" cy="410.50" r="4.6"/>
<circle cx="329.11" cy="410.50" r="4.6"/>
<circle cx="329.11" cy="410.50" r="4.6"/>
<circle cx="331.62" cy="410.00" r="4.6"/>
<circle cx="331.62" cy="411.50" r="4.6"/>
<circle cx="334.13" cy="409.00" r="4.6"/>
<circle cx="334.13" cy="411.50" r="4.6"/>
<circle cx="336.63" cy="409.50" r="4.6"/>
<circle cx="336.63" cy="409.50" r="4.6"/>
<circle cx="339.14" cy="409.50" r="4.6"/>
<circle cx="339.14" cy="409.50" r="4.6"/>
<circle cx="341.65" cy="408.00" r="4.6"/>
<circle cx="341.65" cy="408.00" r="4.6"/>
<circle cx="344.16" cy="407.50" r="4.6"/>
<circle cx="344.16" cy="408.00" r="4.6"/>
<circle cx="346.67" cy="406.00" r="4.6"/>
<circle cx="346.67" cy="408.50" r="4.6"/>
<circle cx="349.18" cy="403.50" r="4.6"/>
<circle cx="349.18" cy="403.50" r="4.6"/>
<circle cx="351.69" cy="406.00" r="4.6"/>
<circle cx="351.69" cy="408.50" r="4.6"/>
<circle cx="354.20" cy="407.00" r="4.6"/>
<circle cx="354.20" cy="409.00" r="4.6"/>
<circle cx="356.71" cy="409.00" r="4.6"/>
<circle cx="356.71" cy="409.50" r="4.6"/>
<circle cx="359.22" cy="409.50" r="4.6"/>
<circle cx="359.22" cy="409.50" r="4.6"/>
<circle cx="361.73" cy="409.50" r="4.6"/>
<circle cx="361.73" cy="409.50" r="4.6"/>
<circle cx="364.23" cy="409.50" r="4.6"/>
<circle cx="364.23" cy="409.50" r="4.6"/>
<circle cx="366.74" cy="409.50" r="4.6"/>
<circle cx="366.74" cy="409.50" r="4.6"/>
<circle cx="369.25" cy="409.00" r="4.6"/>
<circle cx="369.25" cy="409.00" r="4.6"/>
<circle cx="371.76" cy="408.00" r="4.6"/>
<circle cx="371.76" cy="410.00" r="4.6"/>
<circle cx="374.27" cy="405.50" r="4.6"/>
<circle cx="374.27" cy="405.50" r="4.6"/>
<circle cx="376.78" cy="404.00" r="4.6"/>
<circle cx="376.78" cy="404.00" r="4.6"/>
<circle cx="379.29" cy="405.00" r="4.6"/>
<circle cx="379.29" cy="411.50" r="4.6"/>
<circle cx="381.80" cy="405.00" r="4.6"/>
<circle cx="381.80" cy="411.50" r="4.6"/>
<circle cx="384.31" cy="404.00" r="4.6"/>
<circle cx="384.31" cy="410.50" r="4.6"/>
<circle cx="386.81" cy="402.50" r="4.6"/>
<circle cx="386.81" cy="402.50" r="4.6"/>
<circle cx="389.32" cy="405.00" r="4.6"/>
<circle cx="389.32" cy="410.00" r="4.6"/>
<circle cx="391.83" cy="405.50" r="4.6"/>
<circle cx="391.83" cy="410.50" r="4.6"/>
<circle cx="394.34" cy="404.50" r="4.6"/>
<circle cx="394.34" cy="411.00" r="4.6"/>
<circle cx="396.85" cy="407.50" r="4.6"/>
<circle cx="396.85" cy="411.00" r="4.6"/>
<circle cx="399.36" cy="409.00" r="4.6"/>
<circle cx="399.36" cy="410.50" r="4.6"/>
<circle cx="401.87" cy="409.50" r="4.6"/>
<circle cx="401.87" cy="409.50" r="4.6"/>
<circle cx="404.38" cy="409.50" r="4.6"/>
<circle cx="404.38" cy="410.00" r="4.6"/>
<circle cx="406.89" cy="409.00" r="4.6"/>
<circle cx="406.89" cy="410.50" r="4.6"/>
<circle cx="409.40" cy="410.00" r="4.6"/>
<circle cx="409.40" cy="407.00" r="4.6"/>
<circle cx="411.91" cy="406.50" r="4.6"/>
<circle cx="411.91" cy="410.50" r="4.6"/>
<circle cx="414.41" cy="407.50" r="4.6"/>
<circle cx="414.41" cy="407.50" r="4.6"/>
<circle cx="416.92" cy="408.50" r="4.6"/>
<circle cx="416.92" cy="411.00" r="4.6"/>
<circle cx="419.43" cy="408.00" r="4.6"/>
<circle cx="419.43" cy="410.50" r="4.6"/>
<circle cx="421.94" cy="406.50" r="4.6"/>
<circle cx="421.94" cy="406.50" r="4.6"/>
<circle cx="424.45" cy="405.50" r="4.6"/>
<circle cx="424.45" cy="405.50" r="4.6"/>
<circle cx="426.96" cy="404.50" r="4.6"/>
<circle cx="426.96" cy="408.00" r="4.6"/>
<circle cx="429.47" cy="405.50" r="4.6"/>
<circle cx="429.47" cy="409.50" r="4.6"/>
<circle cx="431.98" cy="410.50" r="4.6"/>
<circle cx="431.98" cy="404.50" r="4.6"/>
<circle cx="434.49" cy="402.00" r="4.6"/>
<circle cx="434.49" cy="402.00" r="4.6"/>
<circle cx="437.00" cy="401.50" r="4.6"/>
<circle cx="437.00" cy="403.50" r="4.6"/>
<circle cx="439.50" cy="410.00" r="4.6"/>
<circle cx="439.50" cy="411.00" r="4.6"/>
<circle cx="442.01" cy="400.50" r="4.6"/>
<circle cx="442.01" cy="411.50" r="4.6"/>
<circle cx="444.52" cy="411.00" r="4.6"/>
<circle cx="444.52" cy="411.00" r="4.6"/>
<circle cx="447.03" cy="410.00" r="4.6"/>
<circle cx="447.03" cy="410.00" r="4.6"/>
<circle cx="449.54" cy="409.50" r="4.6"/>
<circle cx="449.54" cy="410.50" r="4.6"/>
<circle cx="452.05" cy="409.50" r="4.6"/>
<circle cx="452.05" cy="409.50" r="4.6"/>
<circle cx="454.56" cy="409.00" r="4.6"/>
<circle cx="454.56" cy="410.50" r="4.6"/>
<circle cx="457.07" cy="407.50" r="4.6"/>
<circle cx="457.07" cy="411.00" r="4.6"/>
<circle cx="459.58" cy="408.50" r="4.6"/>
<circle cx="459.58" cy="408.50" r="4.6"/>
<circle cx="462.08" cy="408.00" r="4.6"/>
<circle cx="462.08" cy="410.50" r="4.6"/>
<circle cx="464.59" cy="410.50" r="4.6"/>
<circle cx="464.59" cy="407.00" r="4.6"/>
<circle cx="467.10" cy="403.50" r="4.6"/>
<circle cx="467.10" cy="403.50" r="4.6"/>
<circle cx="469.61" cy="401.50" r="4.6"/>
<circle cx="469.61" cy="411.00" r="4.6"/>
<circle cx="472.12" cy="409.50" r="4.6"/>
<circle cx="472.12" cy="409.50" r="4.6"/>
<circle cx="474.63" cy="410.50" r="4.6"/>
<circle cx="474.63" cy="410.50" r="4.6"/>
<circle cx="477.14" cy="410.50" r="4.6"/>
<circle cx="477.14" cy="410.50" r="4.6"/>
<circle cx="479.65" cy="410.00" r="4.6"/>
<circle cx="479.65" cy="410.00" r="4.6"/>
<circle cx="482.16" cy="408.50" r="4.6"/>
<circle cx="482.16" cy="410.00" r="4.6"/>
<circle cx="484.67" cy="406.00" r="4.6"/>
<circle cx="484.67" cy="410.50" r="4.6"/>
<circle cx="487.18" cy="404.00" r="4.6"/>
<circle cx="487.18" cy="404.00" r="4.6"/></g>
<g shape-rendering="crispEdges"><circle cx="50.4" cy="345.4" r="4.6" fill="#0000FF"/>
<circle cx="131.5" cy="246.4" r="4.6" fill="#0000FF"/>
<circle cx="158.4" cy="304.4" r="4.6" fill="#0000FF"/>
<circle cx="185.5" cy="359.4" r="4.6" fill="#0000FF"/>
<circle cx="266.4" cy="253.6" r="4.6" fill="#0000FF"/>
<circle cx="300.5" cy="254.3" r="4.6" fill="#0000FF"/>
<circle cx="271.5" cy="304.4" r="4.6" fill="#0000FF"/>
<circle cx="275.5" cy="359.4" r="4.6" fill="#0000FF"/>
<circle cx="273.25" cy="400.5" r="4.6" fill="#0000FF"/>
<circle cx="327.5" cy="304.4" r="4.6" fill="#0000FF"/>
<circle cx="354.5" cy="334.4" r="4.6" fill="#0000FF"/>
<circle cx="435.5" cy="250.5" r="4.6" fill="#0000FF"/>
<circle cx="462.5" cy="304.5" r="4.6" fill="#0000FF"/></g>
</g>
<g fill="#4D4D4D" font-size="12.5" text-anchor="end">
<text x="38.6" y="418">0</text>
<text x="38.6" y="336">10</text>
<text x="38.6" y="254.8">20</text>
<text x="38.6" y="174">30</text>
<text x="38.6" y="92.9">40</text>
</g>
<g shape-rendering="crispEdges">
<rect x="39" y="444" width="455" height="9" fill="#4D4D4D"/>
<rect x="38" y="444" width="1" height="9" fill="#F0B070"/>
<rect x="40" y="445" width="1" height="3" fill="#8AA58A"/><rect x="40" y="449" width="1" height="3" fill="#8AA58A"/>
<rect x="43" y="445" width="1" height="3" fill="#6A9898"/><rect x="43" y="449" width="1" height="3" fill="#6A9898"/>
<rect x="45" y="445" width="1" height="1" fill="#90C8E8"/><rect x="46" y="445" width="1" height="1" fill="#A06040"/>
<rect x="45" y="447" width="1" height="1" fill="#6060B0"/><rect x="46" y="447" width="1" height="1" fill="#D0B060"/>
<rect x="45" y="449" width="1" height="3" fill="#88C8FF"/><rect x="46" y="449" width="1" height="3" fill="#F0B060"/>
<rect x="494" y="445" width="1" height="7" fill="#5070D0"/>
<rect x="489" y="449" width="2" height="2" fill="#E0E0E0"/>
<rect x="486" y="445" width="1" height="6" fill="#B0A060"/>
</g>
<text x="239" y="470" font-size="15.6" text-rendering="geometricPrecision" fill="#000" textLength="54.6" lengthAdjust="spacingAndGlyphs">Feature</text>
<text transform="translate(19.9,250.6) rotate(-90)" font-size="15.6" text-rendering="geometricPrecision" fill="#000" textLength="60.4" lengthAdjust="spacingAndGlyphs">Measure</text>
<text x="510" y="164" font-size="15.6" text-rendering="geometricPrecision" fill="#000" textLength="61.9" lengthAdjust="spacingAndGlyphs">Measure</text>
<circle cx="521.4" cy="183.3" r="4.6" fill="#0000FF" shape-rendering="crispEdges"/>
<text x="540.6" y="188.6" font-size="12" fill="#000" textLength="116.6" lengthAdjust="spacingAndGlyphs">Shapiro-Wilk p-value</text>
<text x="510" y="237.6" font-size="15.6" text-rendering="geometricPrecision" fill="#000" textLength="61.9" lengthAdjust="spacingAndGlyphs">Measure</text>
<g shape-rendering="crispEdges">
<rect x="510" y="247" width="22" height="21" fill="#00FF00"/>
<rect x="510" y="270" width="22" height="21" fill="#FF0000"/>
</g>
<text x="540.3" y="263.8" font-size="12" fill="#000" textLength="47.7" lengthAdjust="spacingAndGlyphs">Kurtosis</text>
<text x="541" y="286.7" font-size="12" fill="#000">Skewness</text>
</svg>
</body></html>
